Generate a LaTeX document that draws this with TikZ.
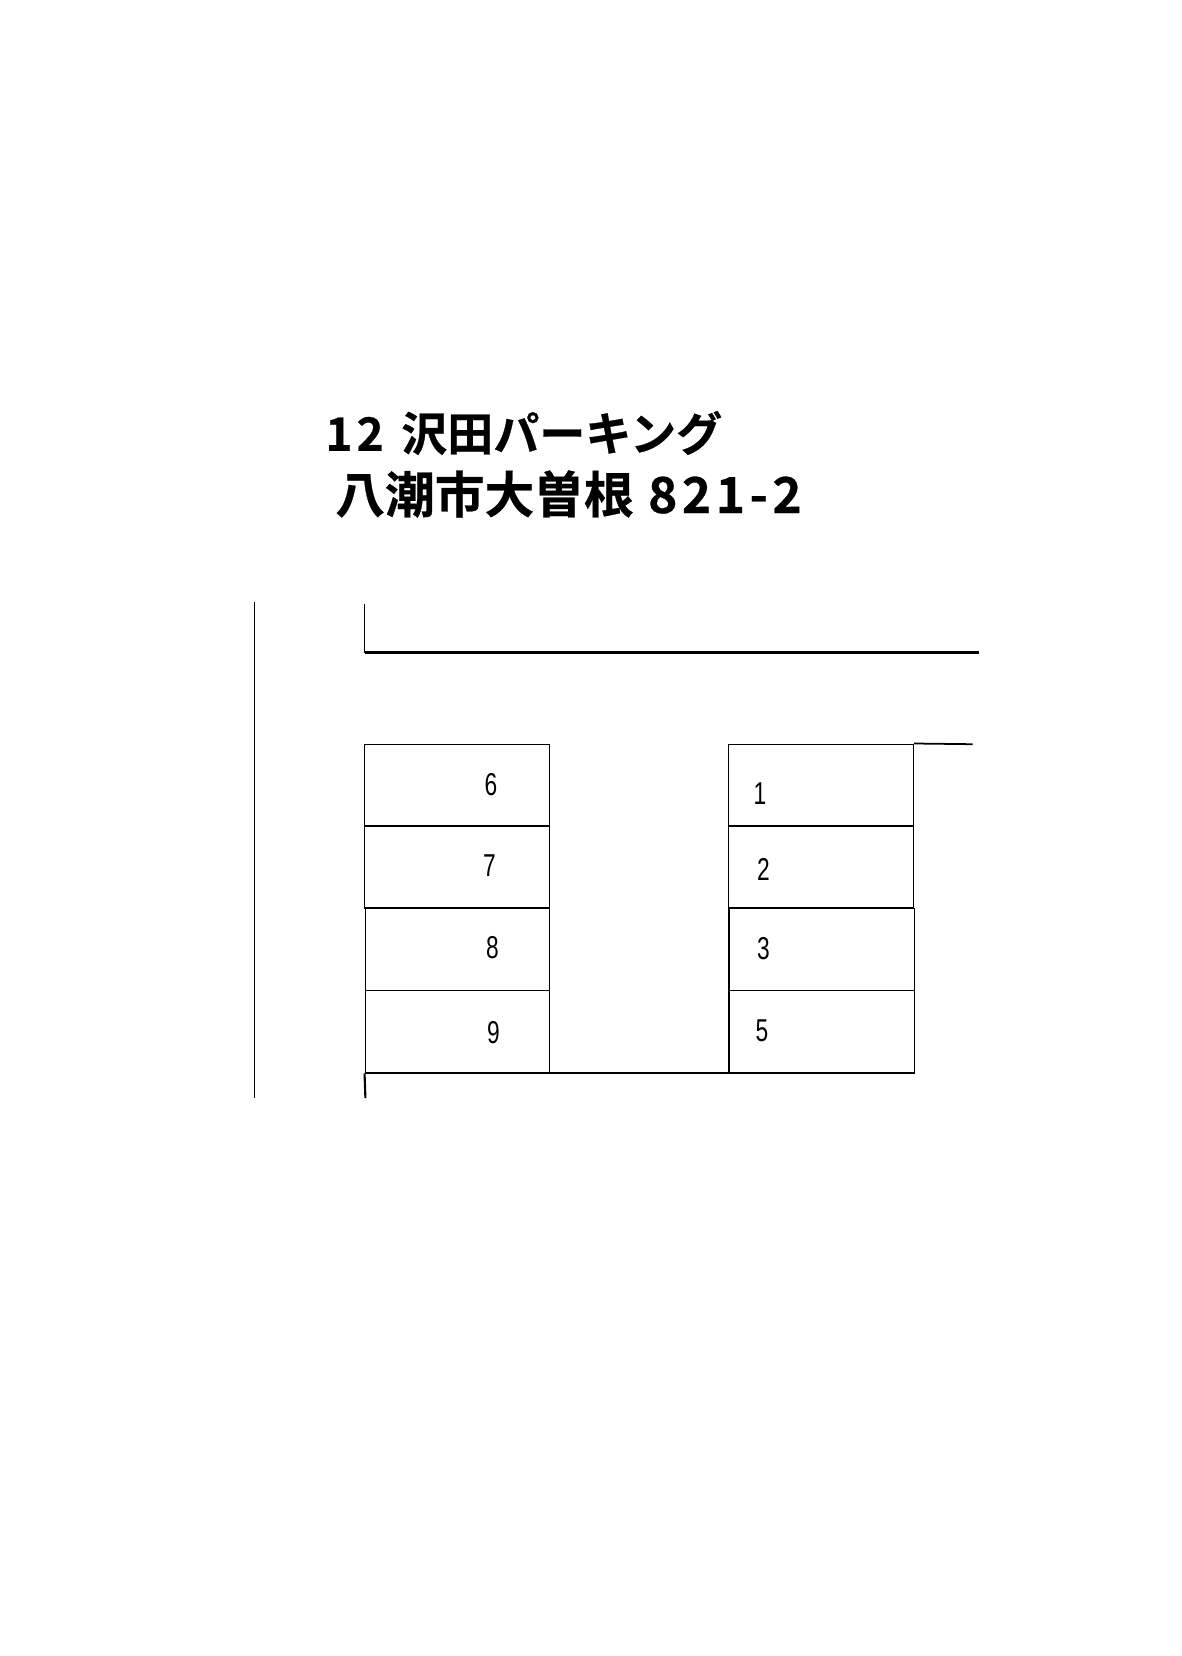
\documentclass[tikz,border=0pt]{standalone}
\usepackage{fontspec}
\newfontfamily\titlefont{Noto Sans CJK JP Bold}[FakeBold=0.5]
\newfontfamily\numfont{Liberation Sans}
\newcommand{\spaced}[1]{{\addfontfeature{LetterSpace=9}#1}}
\tikzset{
    slotbox/.style={shape=rectangle,draw=black,line width=0.8pt,minimum width=184.5*0.02cm,minimum height=82*0.02cm,inner sep=0pt},
    wideslot/.style={slotbox,minimum width=185.5*0.02cm},
    numlabel/.style={inner sep=0pt,font=\numfont\fontsize{18pt}{18pt}\selectfont,xscale=0.72},
    titleline/.style={anchor=west,inner sep=0pt,text=black}
}
\begin{document}
\begin{tikzpicture}[x=0.02cm,y=-0.02cm]
            \useasboundingbox (0,0) rectangle (1181,1656);

            \node[titleline,font=\titlefont\fontsize{26.2pt}{26.2pt}\selectfont] (line1) at (325,433) {\spaced{12}\kern4pt\ 沢田パーキング};
            \node[titleline,font=\titlefont\fontsize{28.3pt}{28.3pt}\selectfont] (line2) at (335,494) {八潮市大曽根\kern1.8pt\ \spaced{821-2}};

            \node[slotbox] (S6) at (457,785.2) {};
            \node[slotbox] (S7) at (457,867) {};
            \node[slotbox] (S8) at (457.5,949.2) {};
            \node[slotbox] (S9) at (457.5,1031.7) {};
            \node[slotbox] (S1) at (821,785.2) {};
            \node[slotbox] (S2) at (821,867) {};
            \node[wideslot] (S3) at (821.7,949.2) {};
            \node[wideslot] (S5) at (821.7,1031.7) {};

            \node[numlabel] (n6) at (491,784.5) {6};
            \node[numlabel] (n7) at (489.5,866) {7};
            \node[numlabel] (n8) at (492.5,948) {8};
            \node[numlabel] (n9) at (493.5,1033) {9};
            \node[numlabel] (n1) at (760,794) {1};
            \node[numlabel] (n2) at (763.5,869) {2};
            \node[numlabel] (n3) at (763.5,949) {3};
            \node[numlabel] (n5) at (762,1031) {5};

            \coordinate (farT) at (254.5,602);
            \coordinate (farB) at (254.5,1098);
            \coordinate (roadT) at (364.5,604);
            \coordinate (roadC) at (364.5,652.5);
            \coordinate (roadR) at (979,652.5);
            \coordinate (stubR) at (972.5,744.2);
            \coordinate (baseB) at (365.4,1098);

            \draw[line width=0.7pt] (farT) -- (farB);
            \draw[line width=0.6pt] (roadT) -- (roadC);
            \draw[line width=1.4pt] (roadC) -- (roadR);
            \draw[line width=1pt] (S1.north east) -- (stubR);
            \draw[line width=1.1pt] (S9.south west) -- (S5.south east);
            \draw[line width=1.2pt] (S9.south west) -- (baseB);
        \end{tikzpicture}
\end{document}
